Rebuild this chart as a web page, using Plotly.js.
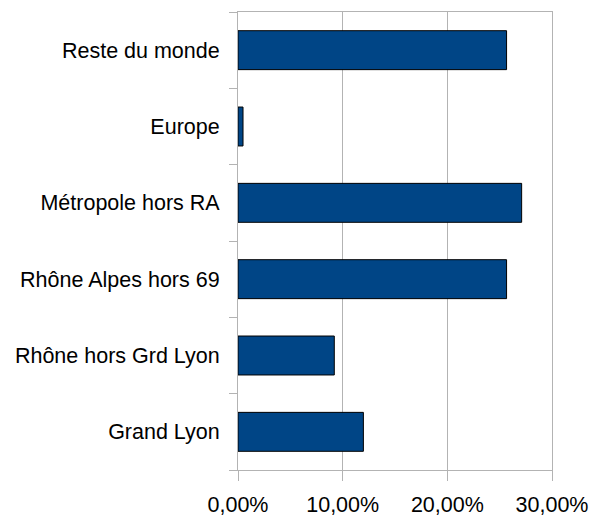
<!DOCTYPE html>
<html>
<head>
<meta charset="utf-8">
<script src="https://cdn.plot.ly/plotly-3.0.1.min.js"></script>
<style>
html,body{margin:0;padding:0;background:#fff;}
</style>
</head>
<body>
<div id="chart" style="width:590px;height:519px;"></div>
<script>
const categories = ["Grand Lyon", "Rhône hors Grd Lyon", "Rhône Alpes hors 69", "Métropole hors RA", "Europe", "Reste du monde"];
const values = [0.1198, 0.092, 0.2566, 0.271, 0.0048, 0.2566];
const xTickVals = [0, 0.1, 0.2, 0.3];

const trace = {
  type: "bar",
  orientation: "h",
  x: values,
  y: categories,
  marker: {color: "#004586", line: {color: "#000000", width: 1}},
  hoverinfo: "none"
};

const layout = {
  width: 590, height: 519,
  margin: {l: 238, r: 38, t: 12, b: 49},
  paper_bgcolor: "#ffffff", plot_bgcolor: "#ffffff",
  separators: ", ",
  bargap: 0.49,
  showlegend: false,
  font: {family: "Liberation Sans, Arial, sans-serif", size: 21.5, color: "#000000"},
  xaxis: {
    range: [0, 0.3],
    tickvals: xTickVals,
    tickformat: ".2%",
    showgrid: true, gridcolor: "#b3b3b3", gridwidth: 1,
    showline: true, linecolor: "#b3b3b3", linewidth: 1, mirror: true,
    ticks: "outside", ticklen: 10, tickcolor: "#b3b3b3", tickwidth: 1,
    ticklabelstandoff: 5,
    zeroline: false,
    fixedrange: true
  },
  yaxis: {
    type: "category",
    categoryorder: "array", categoryarray: categories,
    showgrid: false,
    showline: true, linecolor: "#b3b3b3", linewidth: 1, mirror: true,
    ticks: "outside", ticklen: 8, tickcolor: "#b3b3b3", tickwidth: 1,
    tickson: "boundaries",
    ticklabelstandoff: 13,
    zeroline: false,
    fixedrange: true
  }
};

Plotly.newPlot("chart", [trace], layout, {displayModeBar: false, staticPlot: true});
</script>
</body>
</html>
